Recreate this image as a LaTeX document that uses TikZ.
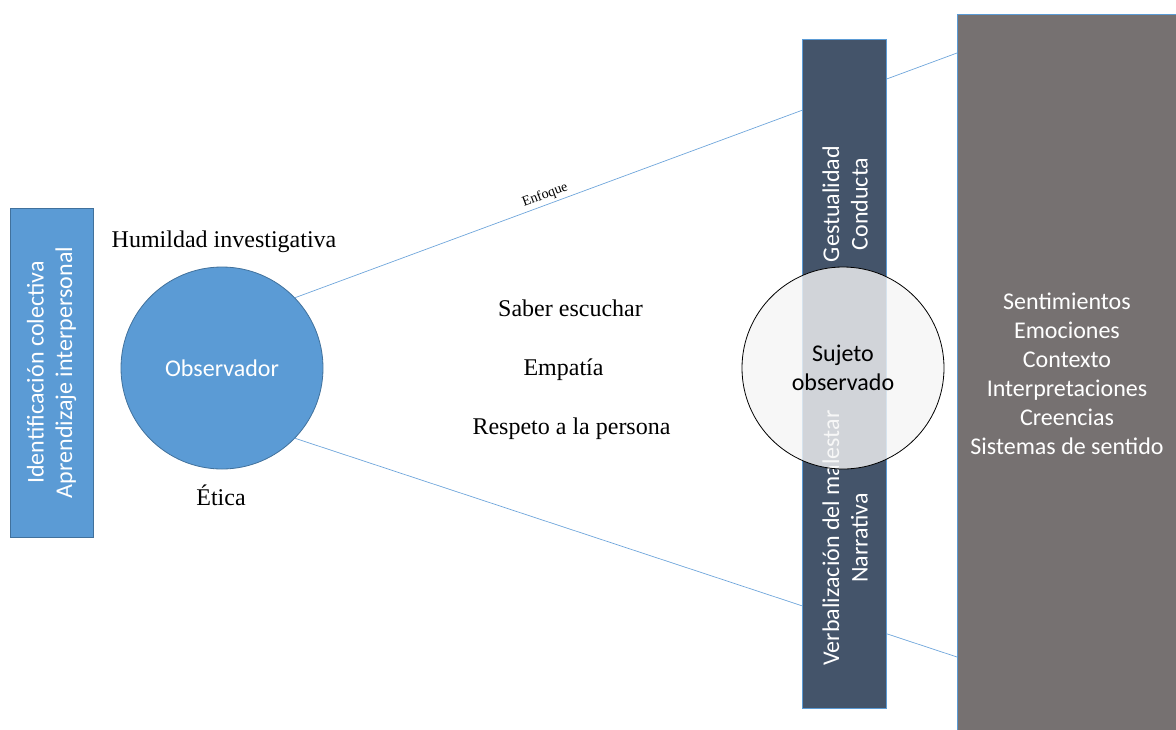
\documentclass[tikz,border=0pt]{standalone}
\usepackage{fontspec}
\setmainfont{Liberation Serif}
\newfontfamily\calibri{Carlito}
\usetikzlibrary{calc}
\definecolor{accblue}{HTML}{5B9BD5}
\definecolor{accborder}{HTML}{41719C}
\definecolor{slate}{HTML}{44546A}
\definecolor{warmgray}{HTML}{767171}
\definecolor{linkblue}{HTML}{6FA6DB}
\begin{document}
\begin{tikzpicture}[x=1pt,y=-1pt,
  box/.style={draw=accborder, line width=0.8pt, inner sep=0pt, outer sep=0pt},
  lightbox/.style={draw=accblue, line width=0.8pt, inner sep=0pt, outer sep=0pt},
  ctext/.style={font=\calibri\fontsize{24}{28.5}\selectfont, text=white, align=center},
  stext/.style={font=\fontsize{24}{28}\selectfont, anchor=base, inner sep=0pt},
  conn/.style={draw=linkblue, line width=0.7pt},
]
\useasboundingbox (0,0) rectangle (1176,729);

% left box
\node[box, fill=accblue, rotate=90, minimum width=329, minimum height=83, ctext]
  (ident) at (51.5,372.5) {Identificación colectiva\\Aprendizaje interpersonal};

% observer
\node[circle, box, fill=accblue, minimum size=202, ctext] (obs) at (222,368) {Observador};

% right box
\node[lightbox, fill=warmgray, minimum width=220, minimum height=719,
  ctext, font=\calibri\fontsize{24}{29}\selectfont]
  (right) at (1067,373.5) {Sentimientos\\Emociones\\Contexto\\Interpretaciones\\Creencias\\Sistemas de sentido};

% connectors
\coordinate (e1) at (957,53);
\coordinate (e2) at (957,657);
\draw[conn] (obs.44) -- node[pos=0.383, sloped, above, inner sep=2.5pt,
  font=\fontsize{14}{16}\selectfont] (enf) {Enfoque} (e1);
\draw[conn] (obs.-44) -- (e2);

% serif labels
\node[stext] (hum) at (224,247) {Humildad investigativa};
\node[stext] (etica) at (221,505) {Ética};
\node[stext] (saber) at (570.5,316) {Saber escuchar};
\node[stext] (empatia) at (563.5,375) {Empatía};
\node[stext] (respeto) at (571.5,434) {Respeto a la persona};

% middle bar
\node[lightbox, fill=slate, minimum width=84, minimum height=669] (bar) at (844,373.5) {};
\node[ctext, rotate=90] (gest) at (845,204) {Gestualidad\\Conducta};
\node[ctext, rotate=90] (verb) at (845,538) {Verbalización del malestar\\Narrativa};

% observed subject
\node[circle, draw=black, line width=0.8pt, fill=white!96!black, fill opacity=0.8,
  text opacity=1, minimum size=202, inner sep=0pt, align=center,
  font=\calibri\fontsize{24}{28.5}\selectfont] (suj) at (843,368) {Sujeto\\observado};
\end{tikzpicture}
\end{document}
